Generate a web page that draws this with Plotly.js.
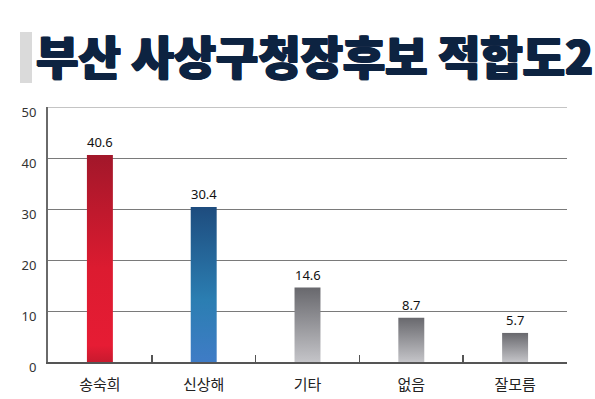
<!DOCTYPE html>
<html>
<head>
<meta charset="utf-8">
<script src="https://cdn.plot.ly/plotly-3.0.1.min.js"></script>
<style>html,body{margin:0;padding:0;background:#fff;}#chart{width:595px;height:399px;}</style>
</head>
<body>
<div id="chart"></div>
<script>
const titleText = '부산 사상구청장후보 적합도2';
const categories = ['송숙희', '신상해', '기타', '없음', '잘모름'];
const values = [40.6, 30.4, 14.6, 8.7, 5.7];
const valueLabels = ['40.6', '30.4', '14.6', '8.7', '5.7'];
const yTicks = [0, 10, 20, 30, 40, 50];

const redScale = [[0, '#c81a2e'], [0.08, '#e61c34'], [0.45, '#dc1b30'], [1, '#a2172a']];
const blueScale = [[0, '#3f7cc6'], [0.4, '#2b7eb2'], [1, '#1e4c7e']];
const grayScale = [[0, '#c4c4c8'], [1, '#68686d']];
const scales = [redScale, blueScale, grayScale, grayScale, grayScale];

const halfW = 0.125;
const traces = [];
categories.forEach((c, i) => {
  const v = values[i];
  traces.push({
    type: 'scatter', mode: 'lines',
    x: [i - halfW, i + halfW, i + halfW, i - halfW, i - halfW],
    y: [0, 0, v, v, 0],
    fill: 'toself',
    line: {width: 0, color: 'rgba(0,0,0,0)'},
    fillgradient: {type: 'vertical', colorscale: scales[i], start: 0, stop: v},
    hoverinfo: 'skip', showlegend: false
  });
});

const annotations = categories.map((c, i) => ({
  x: i, y: values[i], xref: 'x', yref: 'y',
  text: valueLabels[i], showarrow: false,
  yanchor: 'bottom', yshift: 2,
  font: {family: 'Noto Sans, sans-serif', size: 13, color: '#111'}
}));

const W = 595, H = 399;
const m = {l: 48, r: 28, t: 107, b: 37};
const pw = W - m.l - m.r, ph = H - m.t - m.b;
const px = p => (p - m.l) / pw;
const py = p => (H - m.b - p) / ph;
const tc = '#0d2341';

const layout = {
  width: W, height: H,
  margin: m,
  paper_bgcolor: '#fff', plot_bgcolor: '#fff',
  showlegend: false,
  font: {family: 'Noto Sans CJK KR, Noto Sans, sans-serif'},
  title: {
    text: titleText,
    x: 36 / W, xanchor: 'left', xref: 'container',
    y: 1 - 58 / H, yanchor: 'middle', yref: 'container',
    font: {family: 'Noto Sans CJK KR, sans-serif', size: 46, weight: 900, color: tc,
      shadow: `1px 0 0 ${tc}, 0 1px 0 ${tc}, 1px 1px 0 ${tc}, -1px 0 0 ${tc}`}
  },
  xaxis: {
    range: [-0.5, categories.length - 0.5],
    tickmode: 'array',
    tickvals: categories.map((c, i) => i),
    ticktext: categories,
    ticks: 'inside', ticklen: 0,
    showgrid: false, zeroline: false,
    showline: true, linecolor: '#555', linewidth: 2,
    tickfont: {family: 'Noto Sans CJK KR, sans-serif', size: 15, color: '#222'},
    ticklabelstandoff: 8,
    minor: {tickmode: 'linear', tick0: 0.5, dtick: 1, ticks: 'inside', ticklen: 7, tickcolor: '#555', tickwidth: 1.5, showgrid: false},
    fixedrange: true
  },
  yaxis: {
    range: [0, 50],
    tickmode: 'array', tickvals: yTicks,
    ticks: '',
    showgrid: true, gridcolor: '#7a7a7a', gridwidth: 1,
    zeroline: false,
    showline: true, linecolor: '#6a6a6a', linewidth: 2,
    tickfont: {family: 'Noto Sans, sans-serif', size: 13, color: '#333'},
    ticklabelstandoff: 7,
    ticklabelshift: 5,
    fixedrange: true
  },
  annotations: annotations,
  shapes: [
    {type: 'rect', xref: 'paper', yref: 'paper', x0: px(20), x1: px(32), y0: py(83), y1: py(32),
     fillcolor: '#dadada', line: {width: 0}},
    {type: 'line', xref: 'paper', yref: 'y', x0: 0, x1: 1, y0: 50, y1: 50,
     line: {color: '#c4c4c4', width: 2}}
  ]
};

Plotly.newPlot('chart', traces, layout, {displayModeBar: false, staticPlot: true});
</script>
</body>
</html>
